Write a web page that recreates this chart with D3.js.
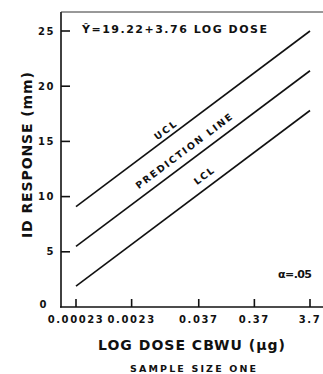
<!DOCTYPE html>
<html>
<head>
<meta charset="utf-8">
<script src="https://cdn.jsdelivr.net/npm/d3@7"></script>
<style>
  body { margin: 0; background: #fff; }
  svg text { font-family: "DejaVu Sans", sans-serif; font-weight: bold; fill: #111; }
</style>
</head>
<body>
<div id="chart"></div>
<script>
const width = 323,
	height = 374;

// log dose (µg) at the ends of the fitted lines
const doses = [0.00023, 3.7];
const uclValues = [9.1, 25.0];
const predValues = [5.5, 21.4];
const lclValues = [1.9, 17.8];

const xTickValues = [0.00023, 0.0023, 0.037, 0.37, 3.7];
const xTickLabels = ["0.00023", "0.0023", "0.037", "0.37", "3.7"];
const yTickValues = [0, 5, 10, 15, 20, 25];

const series = [
	{ name: "UCL", values: uclValues, at: 0.40, off: 4, len: 25 },
	{ name: "PREDICTION LINE", values: predValues, at: 0.49, off: 8, len: 118 },
	{ name: "LCL", values: lclValues, at: 0.575, off: 8, len: 22 },
];

const x = d3.scaleLog().domain([0.00023, 3.7]).range([76, 310]);
const y = d3.scaleLinear().domain([0, 25]).range([307, 31]);

const svg = d3
	.select("#chart")
	.append("svg")
	.attr("width", width)
	.attr("height", height);

// frame: left axis, bottom axis, top rule
svg.append("line")
	.attr("x1", 61).attr("x2", 61)
	.attr("y1", 12).attr("y2", 307.5)
	.attr("stroke", "#111").attr("stroke-width", 1.6);
svg.append("line")
	.attr("x1", 60).attr("x2", 323)
	.attr("y1", 307).attr("y2", 307)
	.attr("stroke", "#111").attr("stroke-width", 1.6);
svg.append("line")
	.attr("x1", 61).attr("x2", 323)
	.attr("y1", 12).attr("y2", 12)
	.attr("stroke", "#333").attr("stroke-width", 1);

// y ticks (pointing inward)
const yTicks = svg.append("g");
yTicks.selectAll("line")
	.data(yTickValues.filter((d) => d > 0))
	.join("line")
	.attr("x1", 61).attr("x2", 70)
	.attr("y1", (d) => y(d)).attr("y2", (d) => y(d))
	.attr("stroke", "#111").attr("stroke-width", 1.6);
yTicks.selectAll("text")
	.data(yTickValues)
	.join("text")
	.attr("x", (d) => (d === 0 ? 48 : 55))
	.attr("y", (d) => (d === 0 ? y(d) - 3 : y(d)))
	.attr("dy", "0.36em")
	.attr("text-anchor", "end")
	.attr("font-size", 10)
	.attr("letter-spacing", 1.5)
	.text((d) => d);

// x ticks (pointing up)
const xTicks = svg.append("g");
xTicks.selectAll("line")
	.data(xTickValues)
	.join("line")
	.attr("x1", (d) => x(d)).attr("x2", (d) => x(d))
	.attr("y1", 307).attr("y2", 299)
	.attr("stroke", "#111").attr("stroke-width", 1.6);
xTicks.selectAll("text")
	.data(xTickValues)
	.join("text")
	.attr("x", (d) => x(d))
	.attr("y", 323)
	.attr("text-anchor", "middle")
	.attr("font-size", 10)
	.attr("letter-spacing", 1.6)
	.text((d, i) => xTickLabels[i]);

// fitted line and limits
const line = d3
	.line()
	.x((d) => x(d[0]))
	.y((d) => y(d[1]));

svg.append("g")
	.selectAll("path")
	.data(series)
	.join("path")
	.attr("d", (s) => line(doses.map((d, i) => [d, s.values[i]])))
	.attr("fill", "none")
	.attr("stroke", "#111")
	.attr("stroke-width", 1.6);

svg.append("g")
	.selectAll("text")
	.data(series)
	.join("text")
	.attr("transform", (s) => {
		const x0 = x(doses[0]), y0 = y(s.values[0]);
		const x1 = x(doses[1]), y1 = y(s.values[1]);
		const ang = (Math.atan2(y1 - y0, x1 - x0) * 180) / Math.PI;
		const px = x0 + (x1 - x0) * s.at,
			py = y0 + (y1 - y0) * s.at;
		return `translate(${px},${py}) rotate(${ang})`;
	})
	.attr("y", (s) => -s.off)
	.attr("text-anchor", "middle")
	.attr("font-size", 9.5)
	.attr("textLength", (s) => s.len)
	.attr("lengthAdjust", "spacing")
	.text((s) => s.name);

// annotations
svg.append("text")
	.attr("x", 82).attr("y", 33)
	.attr("font-size", 11)
	.attr("textLength", 185)
	.attr("lengthAdjust", "spacing")
	.text("Ŷ=19.22+3.76 LOG DOSE");

svg.append("text")
	.attr("x", 278).attr("y", 278)
	.attr("font-size", 11)
	.attr("textLength", 34)
	.attr("lengthAdjust", "spacing")
	.text("α=.05");

svg.append("text")
	.attr("x", 98).attr("y", 350)
	.attr("font-size", 14)
	.attr("textLength", 187)
	.attr("lengthAdjust", "spacing")
	.text("LOG DOSE CBWU (μg)");

svg.append("text")
	.attr("x", 130).attr("y", 372)
	.attr("font-size", 9.5)
	.attr("textLength", 126)
	.attr("lengthAdjust", "spacing")
	.text("SAMPLE SIZE  ONE");

svg.append("text")
	.attr("transform", "translate(32,155) rotate(-90)")
	.attr("text-anchor", "middle")
	.attr("font-size", 14)
	.attr("textLength", 166)
	.attr("lengthAdjust", "spacing")
	.text("ID RESPONSE (mm)");
</script>
</body>
</html>
